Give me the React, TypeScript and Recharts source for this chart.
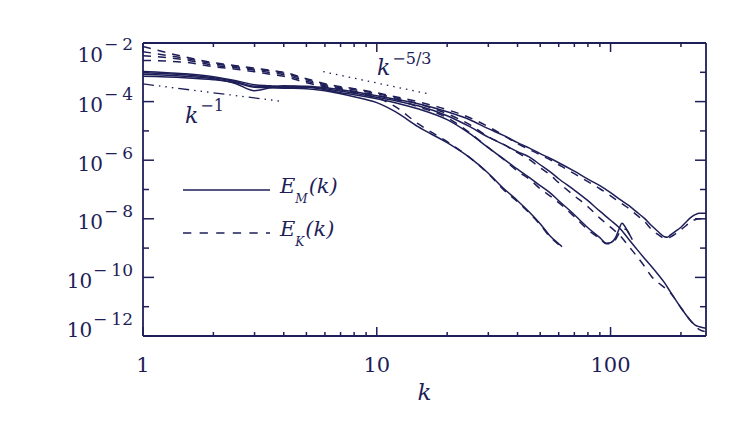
import { LineChart, Line, XAxis, YAxis } from 'recharts';

const INK = '#1e1e58';
const FONT = '"DejaVu Serif", serif';

// wavenumbers shared by every run at low k
const kBase = [1, 1.5, 2, 2.5, 3, 3.5, 4, 5, 6, 7, 8, 10, 12, 15, 20, 25, 30, 35, 40, 45, 50, 55, 60];

// run A (64^3)
const kA = [...kBase, 62];
const emA = [7.36e-4, 6.54e-4, 5.59e-4, 4.42e-4, 3.1e-4, 2.98e-4, 2.87e-4, 2.76e-4, 2.36e-4, 1.86e-4, 1.47e-4, 9.2e-5, 4.52e-5, 1.39e-5, 3.96e-6, 1.22e-6, 3.6e-7, 1.06e-7, 4.15e-8, 1.68e-8, 6.8e-9, 2.65e-9, 1.41e-9, 1.12e-9];
const ekA = [2.55e-3, 2.21e-3, 1.55e-3, 1.28e-3, 1.05e-3, 8.6e-4, 7.36e-4, 4.42e-4, 3.23e-4, 2.55e-4, 2.01e-4, 1.36e-4, 6.7e-5, 1.76e-5, 4.28e-6, 1.22e-6, 3.46e-7, 9.5e-8, 3.84e-8, 1.55e-8, 6.3e-9, 2.45e-9, 1.31e-9, 1.03e-9];

// run B (128^3)
const kB = [...kBase, 70, 80, 90, 96, 100, 105, 108, 112, 116, 120, 124];
const emB = [8.6e-4, 7.36e-4, 6.05e-4, 4.08e-4, 2.36e-4, 2.98e-4, 3.49e-4, 3.23e-4, 2.55e-4, 2.01e-4, 1.72e-4, 1.26e-4, 9.2e-5, 5.7e-5, 2.41e-5, 8.0e-6, 2.67e-6, 1.08e-6, 4.93e-7, 2.53e-7, 1.35e-7, 7.8e-8, 4.15e-8, 1.38e-8, 4.97e-9, 2.27e-9, 1.47e-9, 1.53e-9, 2.27e-9, 3.93e-9, 7.08e-9, 4.97e-9, 3.1e-9, 1.94e-9];
const ekB = [3.68e-3, 2.69e-3, 1.75e-3, 1.44e-3, 1.18e-3, 9.7e-4, 8.28e-4, 4.97e-4, 3.49e-4, 2.76e-4, 2.27e-4, 1.66e-4, 1.21e-4, 6.7e-5, 2.82e-5, 8.5e-6, 2.67e-6, 1.04e-6, 4.21e-7, 2.25e-7, 1.06e-7, 6.1e-8, 3.55e-8, 1.18e-8, 4.25e-9, 2.1e-9, 1.41e-9, 1.41e-9, 1.94e-9, 2.9e-9, 4.2e-9, 4.4e-9, 3.1e-9, 1.79e-9];

// run C (256^3)
const kC = [...kBase, 70, 80, 90, 100, 110, 120, 128, 140, 150, 160, 170, 180, 200, 220, 230, 240, 256];
const emC = [9.7e-4, 8.28e-4, 6.54e-4, 4.78e-4, 3.36e-4, 3.23e-4, 3.1e-4, 3.1e-4, 2.76e-4, 2.27e-4, 1.94e-4, 1.41e-4, 1.07e-4, 7.2e-5, 3.3e-5, 1.39e-5, 6.1e-6, 3.38e-6, 1.95e-6, 1.27e-6, 7.0e-7, 4.05e-7, 2.33e-7, 9.5e-8, 4.15e-8, 1.82e-8, 8.95e-9, 4.59e-9, 1.94e-9, 1.03e-9, 4.35e-10, 2.32e-10, 1.24e-10, 6.6e-11, 3.25e-11, 9.2e-12, 3.33e-12, 2.34e-12, 2.08e-12, 1.85e-12];
const ekC = [5.05e-3, 3.03e-3, 1.97e-3, 1.55e-3, 1.28e-3, 1.09e-3, 9.3e-4, 5.59e-4, 3.77e-4, 2.98e-4, 2.55e-4, 1.86e-4, 1.36e-4, 8.5e-5, 3.86e-5, 1.63e-5, 6.3e-6, 3.38e-6, 1.8e-6, 1.04e-6, 5.5e-7, 3.2e-7, 1.71e-7, 6.1e-8, 2.59e-8, 1.05e-8, 5.17e-9, 2.65e-9, 1.12e-9, 5.95e-10, 2.32e-10, 1.06e-10, 6.6e-11, 4.46e-11, 3.0e-11, 9.2e-12, 3.33e-12, 2.25e-12, 1.64e-12, 1.4e-12];

// run D (256^3, bottleneck pile-up)
const kD = [...kBase, 70, 80, 90, 100, 110, 120, 128, 140, 150, 160, 170, 175, 180, 190, 200, 210, 220, 230, 240, 256];
const emD = [1.07e-3, 8.95e-4, 7.08e-4, 5.16e-4, 3.77e-4, 3.49e-4, 3.23e-4, 3.36e-4, 2.98e-4, 2.55e-4, 2.18e-4, 1.59e-4, 1.21e-4, 8.5e-5, 4.52e-5, 2.41e-5, 1.19e-5, 6.9e-6, 3.96e-6, 2.57e-6, 1.67e-6, 1.17e-6, 8.2e-7, 4.21e-7, 2.25e-7, 1.35e-7, 7.8e-8, 4.49e-8, 2.8e-8, 1.82e-8, 1.01e-8, 5.8e-9, 3.63e-9, 2.45e-9, 2.36e-9, 2.76e-9, 3.78e-9, 5.17e-9, 7.65e-9, 1.09e-8, 1.38e-8, 1.55e-8, 1.55e-8];
const ekD = [7.66e-3, 3.4e-3, 2.13e-3, 1.68e-3, 1.38e-3, 1.18e-3, 1.01e-3, 6.05e-4, 4.08e-4, 3.23e-4, 2.76e-4, 2.01e-4, 1.47e-4, 9.9e-5, 5.3e-5, 2.82e-5, 1.39e-5, 6.9e-6, 3.66e-6, 2.29e-6, 1.54e-6, 1.04e-6, 7.0e-7, 3.46e-7, 1.85e-7, 1.06e-7, 6.1e-8, 3.55e-8, 2.21e-8, 1.44e-8, 7.96e-9, 4.25e-9, 2.87e-9, 2.18e-9, 2.18e-9, 2.36e-9, 3.1e-9, 4.25e-9, 5.8e-9, 7.96e-9, 9.3e-9, 1.01e-8, 1.01e-8];

// power-law guides
const kSlope1 = [1, 4];
const eSlope1 = [4.0e-4, 1.0e-4];
const kSlope53 = [5.9, 16.8];
const eSlope53 = [1.05e-3, 1.8e-4];

const xTicks = [1, 2, 3, 4, 5, 6, 7, 8, 9, 10, 20, 30, 40, 50, 60, 70, 80, 90, 100, 200];
const yTicks = [1e-12, 1e-11, 1e-10, 1e-9, 1e-8, 1e-7, 1e-6, 1e-5, 1e-4, 1e-3, 1e-2];

const toRows = (ks: number[], es: number[]) => ks.map((k, i) => ({ k, e: es[i] }));

const curves = [
  { id: 'emA', data: toRows(kA, emA), dash: undefined },
  { id: 'ekA', data: toRows(kA, ekA), dash: '8 7' },
  { id: 'emB', data: toRows(kB, emB), dash: undefined },
  { id: 'ekB', data: toRows(kB, ekB), dash: '8 7' },
  { id: 'emC', data: toRows(kC, emC), dash: undefined },
  { id: 'ekC', data: toRows(kC, ekC), dash: '8 7' },
  { id: 'emD', data: toRows(kD, emD), dash: undefined },
  { id: 'ekD', data: toRows(kD, ekD), dash: '8 7' },
];

const isMajorX = (v: number) => v === 1 || v === 10 || v === 100;

const XTickBottom = (p: any) => {
  const { x, y, payload } = p;
  const major = isMajorX(payload.value);
  return (
    <g>
      <line x1={x} x2={x} y1={y} y2={y - (major ? 9 : 4)} stroke={INK} strokeWidth={1.5} />
      {major && (
        <text x={x} y={y + 36} textAnchor="middle" fontFamily={FONT} fontSize={21} fill={INK}>
          {payload.value}
        </text>
      )}
    </g>
  );
};

const XTickTop = (p: any) => {
  const { x, y, payload } = p;
  const major = isMajorX(payload.value);
  return <line x1={x} x2={x} y1={y} y2={y + (major ? 9 : 4)} stroke={INK} strokeWidth={1.5} />;
};

const expOf = (v: number) => Math.round(Math.log10(v));

const YTickLeft = (p: any) => {
  const { x, y, payload } = p;
  const exp = expOf(payload.value);
  const major = exp % 2 === 0;
  const base = exp === -2 ? 19 : exp === -12 ? 1 : 10.5;
  return (
    <g>
      <line x1={x} x2={x + (major ? 11 : 6)} y1={y} y2={y} stroke={INK} strokeWidth={1.5} />
      {major && (
        <text x={x - 10} y={y + base} textAnchor="end" fontFamily={FONT} fontSize={20} fill={INK}>
          10
          <tspan dy={-12} dx={1} fontSize={17}>−</tspan>
          <tspan dx={4} fontSize={17}>{-exp}</tspan>
        </text>
      )}
    </g>
  );
};

const YTickRight = (p: any) => {
  const { x, y, payload } = p;
  const major = expOf(payload.value) % 2 === 0;
  return <line x1={x} x2={x - (major ? 11 : 6)} y1={y} y2={y} stroke={INK} strokeWidth={1.5} />;
};

const axisLine = { stroke: INK, strokeWidth: 1.8 };

function Overlay() {
  const t = { fontFamily: FONT, fill: INK, fontStyle: 'italic' as const };
  return (
    <svg width={747} height={427} style={{ position: 'absolute', left: 0, top: 0, pointerEvents: 'none' }}>
      <text x={424.5} y={400} textAnchor="middle" fontSize={23} {...t}>k</text>

      <text x={185} y={123} fontSize={22} {...t}>
        k<tspan dy={-12} dx={2} fontSize={16} fontStyle="normal">−1</tspan>
      </text>
      <text x={377} y={75} fontSize={22} {...t}>
        k<tspan dy={-11} dx={2} fontSize={16} fontStyle="normal">−5/3</tspan>
      </text>

      <line x1={183} x2={270} y1={190} y2={190} stroke={INK} strokeWidth={1.3} />
      <text x={280} y={193} fontSize={21} {...t}>
        E<tspan dy={10} fontSize={12}>M</tspan><tspan dy={-10} dx={1}>(k)</tspan>
      </text>
      <line x1={183} x2={270} y1={233} y2={233} stroke={INK} strokeWidth={1.3} strokeDasharray="8.3 8.3" />
      <text x={280} y={236} fontSize={21} {...t}>
        E<tspan dy={10} fontSize={12}>K</tspan><tspan dy={-10} dx={1}>(k)</tspan>
      </text>
    </svg>
  );
}

export default function App() {
  return (
    <div style={{ position: 'absolute', left: 0, top: 0, width: 747, height: 427, background: '#fff' }}>
      <LineChart width={747} height={427} margin={{ top: 23, right: 21, bottom: 51, left: 83 }}>
        <XAxis
          xAxisId={0}
          dataKey="k"
          type="number"
          scale="log"
          domain={[1, 256]}
          allowDataOverflow
          ticks={xTicks}
          interval={0}
          tickSize={0}
          tickMargin={0}
          height={40}
          axisLine={axisLine}
          tickLine={false}
          tick={(p: any) => <XTickBottom {...p} />}
        />
        <XAxis
          xAxisId="top"
          orientation="top"
          dataKey="k"
          type="number"
          scale="log"
          domain={[1, 256]}
          allowDataOverflow
          ticks={xTicks}
          interval={0}
          tickSize={0}
          tickMargin={0}
          height={20}
          axisLine={axisLine}
          tickLine={false}
          tick={(p: any) => <XTickTop {...p} />}
        />
        <YAxis
          yAxisId={0}
          type="number"
          scale="log"
          domain={[1e-12, 1e-2]}
          allowDataOverflow
          ticks={yTicks}
          interval={0}
          tickSize={0}
          tickMargin={0}
          width={60}
          axisLine={axisLine}
          tickLine={false}
          tick={(p: any) => <YTickLeft {...p} />}
        />
        <YAxis
          yAxisId="right"
          orientation="right"
          type="number"
          scale="log"
          domain={[1e-12, 1e-2]}
          allowDataOverflow
          ticks={yTicks}
          interval={0}
          tickSize={0}
          tickMargin={0}
          width={20}
          axisLine={axisLine}
          tickLine={false}
          tick={(p: any) => <YTickRight {...p} />}
        />
        {curves.map((c) => (
          <Line
            key={c.id}
            data={c.data}
            dataKey="e"
            type="monotone"
            stroke={INK}
            strokeWidth={1.5}
            strokeDasharray={c.dash}
            dot={false}
            isAnimationActive={false}
          />
        ))}
        <Line
          data={toRows(kSlope1, eSlope1)}
          dataKey="e"
          type="linear"
          stroke={INK}
          strokeWidth={1.3}
          strokeDasharray="11 5 1.5 5 1.5 5 1.5 5"
          dot={false}
          isAnimationActive={false}
        />
        <Line
          data={toRows(kSlope53, eSlope53)}
          dataKey="e"
          type="linear"
          stroke={INK}
          strokeWidth={1.3}
          strokeDasharray="1.5 5"
          dot={false}
          isAnimationActive={false}
        />
      </LineChart>
      <Overlay />
    </div>
  );
}
